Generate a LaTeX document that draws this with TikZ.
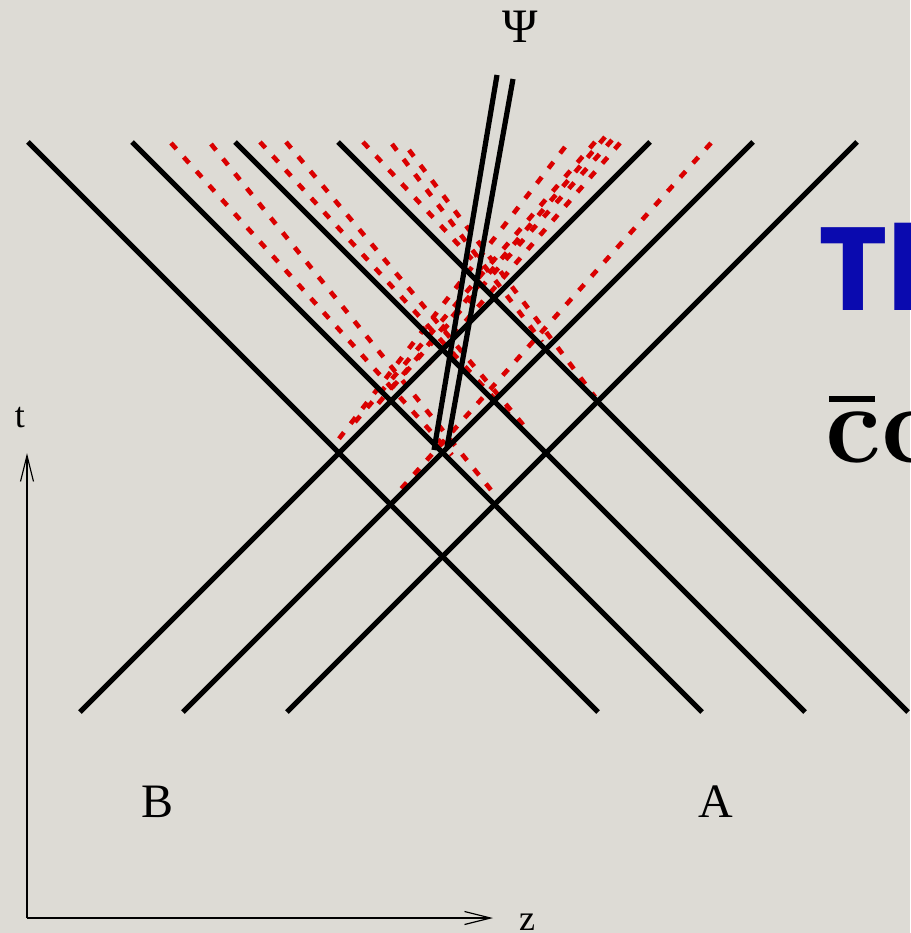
\documentclass[tikz,border=0pt]{standalone}
\usepackage{fontspec}
\setmainfont{Liberation Serif}
\newfontfamily\handfont{Poppins}
\newfontfamily\lmrfont{Latin Modern Roman}
\usetikzlibrary{arrows.meta}
\definecolor{bgc}{RGB}{221,219,213}
\definecolor{redd}{RGB}{218,0,0}
\definecolor{tblue}{RGB}{10,10,175}
\begin{document}
\begin{tikzpicture}[x=1pt,y=-1pt,
  worldline/.style={line width=5.2pt,black},
  reddash/.style={line width=4.6pt,redd,dash pattern=on 8pt off 11pt},
  axisline/.style={line width=1.2pt,black,-{Straight Barb[length=26pt,width=13pt,line width=1.2pt]}},
  lbl/.style={inner sep=0pt,anchor=base,font=\fontsize{48}{48}\selectfont},
  smalllbl/.style={inner sep=0pt,anchor=base,font=\fontsize{36}{36}\selectfont}]
\useasboundingbox (0,0) rectangle (910,933);
\clip (0,0) rectangle (910,933);
\fill[bgc] (0,0) rectangle (910,933);

% red dashed lines (down-right family)
\draw[reddash] (171,143) -- (452,455);
\draw[reddash] (211,144) -- (491,490);
\draw[reddash] (260,142) -- (512,418);
\draw[reddash] (286,142) -- (530,433);
\draw[reddash] (363,142) -- (482,270);
\draw[reddash] (392,144) -- (542,342);
\draw[reddash] (409,150) -- (595,397);
% red dashed lines (up-right family)
\draw[reddash] (620,143) -- (425,368);
\draw[reddash] (605,137) -- (377,405);
\draw[reddash] (612,140) -- (390,390);
\draw[reddash] (595,142) -- (355,422);
\draw[reddash] (565,147) -- (338,440);
\draw[reddash] (711,143) -- (400,490);

% black world lines of nucleus A (moving left)
\coordinate (a1t) at (28,142);  \coordinate (a1b) at (598,712);
\coordinate (a2t) at (132,142); \coordinate (a2b) at (702,712);
\coordinate (a3t) at (235,142); \coordinate (a3b) at (805,712);
\coordinate (a4t) at (338,142); \coordinate (a4b) at (908,712);
\draw[worldline] (a1t) -- (a1b);
\draw[worldline] (a2t) -- (a2b);
\draw[worldline] (a3t) -- (a3b);
\draw[worldline] (a4t) -- (a4b);
% black world lines of nucleus B (moving right)
\coordinate (b1b) at (80,712);  \coordinate (b1t) at (650,142);
\coordinate (b2b) at (183,712); \coordinate (b2t) at (753,142);
\coordinate (b3b) at (287,712); \coordinate (b3t) at (857,142);
\draw[worldline] (b1b) -- (b1t);
\draw[worldline] (b2b) -- (b2t);
\draw[worldline] (b3b) -- (b3t);

% Psi world lines
\coordinate (p1t) at (497,75); \coordinate (p1b) at (434,450);
\coordinate (p2t) at (513,79); \coordinate (p2b) at (447,447);
\draw[worldline] (p1t) -- (p1b);
\draw[worldline] (p2t) -- (p2b);

% axes
\coordinate (origin) at (27,918);
\coordinate (tend) at (27,453);
\coordinate (zend) at (493,918);
\draw[axisline] (origin) -- (tend);
\draw[axisline] (origin) -- (zend);

% labels
\node[lbl] (psi) at (520,43) {Ψ};
\node[smalllbl] (tl) at (20,427) {t};
\node[smalllbl] (zl) at (527,930) {z};
\node[lbl] (bl) at (158,817) {B};
\node[lbl] (al) at (716,817) {A};

% cut-off slide text
\node[inner sep=0pt,anchor=base west,text=tblue,font=\handfont\bfseries\fontsize{118}{118}\selectfont] (title) at (818,310) {Th};
\node[inner sep=0pt,anchor=base west,font=\lmrfont\bfseries\fontsize{112}{112}\selectfont] (ccbar) at (825,462) {cc};
\fill[black] (829,396) rectangle (875,402);
\end{tikzpicture}
\end{document}
